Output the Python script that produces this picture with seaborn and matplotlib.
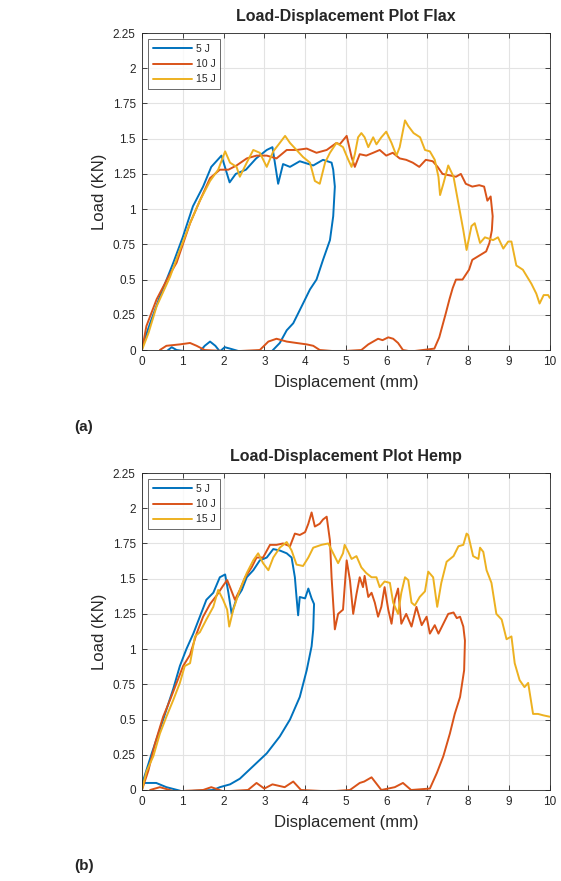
import matplotlib
matplotlib.use("Agg")
import matplotlib.pyplot as plt
import seaborn as sns
from matplotlib.ticker import FuncFormatter

# ---- data (displacement mm, load kN) ----
flax_5_x = [0, 0.2, 0.44, 0.77, 1.0, 1.25, 1.5, 1.7, 1.95, 2.15, 2.3, 2.55, 2.8, 3.06, 3.2, 3.34,
            3.46, 3.63, 3.87, 4.2, 4.44, 4.65, 4.69, 4.73, 4.69, 4.61, 4.44, 4.28, 4.12, 3.95, 3.71,
            3.55, 3.38, 3.18, 2.4, 2.16, 2.03, 1.91, 1.8, 1.67, 1.54, 1.42, 1.1, 0.85, 0.73, 0.6]
flax_5_y = [0.02, 0.19, 0.38, 0.62, 0.8, 1.02, 1.16, 1.3, 1.38, 1.19, 1.25, 1.28, 1.36, 1.42, 1.44, 1.18,
            1.32, 1.3, 1.34, 1.31, 1.35, 1.33, 1.28, 1.16, 0.95, 0.78, 0.64, 0.5, 0.43, 0.33, 0.19,
            0.14, 0.05, -0.01, -0.01, 0.01, 0.02, -0.01, 0.03, 0.06, 0.03, -0.01, -0.01, 0.0, 0.02, -0.01]

flax_10_x = [0, 0.11, 0.36, 0.65, 0.85, 1.18, 1.42, 1.67, 1.91, 2.12, 2.32, 2.57, 2.81, 3.06, 3.3, 3.55,
             3.79, 4.04, 4.28, 4.53, 4.77, 4.85, 5.02, 5.14, 5.22, 5.34, 5.5, 5.67, 5.83, 5.99, 6.15,
             6.32, 6.48, 6.64, 6.8, 6.96, 7.13, 7.25, 7.37, 7.54, 7.7, 7.82, 7.94, 8.1, 8.27, 8.39,
             8.47, 8.55, 8.6, 8.58, 8.52, 8.44, 8.27, 8.1, 8.02, 7.86, 7.7, 7.62, 7.54, 7.45, 7.29,
             7.17, 6.6, 6.4, 6.28, 6.16, 6.04, 5.9, 5.79, 5.67, 5.55, 5.38, 4.8, 4.36, 4.2, 4.04,
             3.79, 3.55, 3.3, 3.1, 2.89, 2.2, 1.54, 1.34, 1.18, 0.93, 0.6, 0.44]
flax_10_y = [0, 0.17, 0.36, 0.52, 0.62, 0.9, 1.06, 1.22, 1.28, 1.28, 1.31, 1.36, 1.38, 1.38, 1.36, 1.42,
             1.42, 1.43, 1.4, 1.42, 1.47, 1.46, 1.52, 1.37, 1.3, 1.39, 1.38, 1.4, 1.42, 1.38, 1.4,
             1.36, 1.35, 1.33, 1.3, 1.35, 1.34, 1.3, 1.25, 1.24, 1.23, 1.25, 1.18, 1.16, 1.17, 1.16,
             1.06, 1.09, 0.95, 0.85, 0.76, 0.7, 0.67, 0.64, 0.57, 0.5, 0.5, 0.44, 0.36, 0.26, 0.09,
             0.01, -0.01, 0.0, 0.05, 0.08, 0.09, 0.07, 0.08, 0.06, 0.04, 0.0, -0.01, 0.0, 0.03, 0.04,
             0.05, 0.06, 0.08, 0.06, 0.0, -0.01, 0.0, 0.03, 0.05, 0.04, 0.03, 0.0]

flax_15_x = [0, 0.16, 0.36, 0.69, 0.93, 1.18, 1.42, 1.67, 1.87, 2.04, 2.16, 2.32, 2.4, 2.57, 2.73, 2.89,
             3.06, 3.22, 3.38, 3.51, 3.63, 3.79, 3.95, 4.12, 4.24, 4.36, 4.49, 4.61, 4.77, 4.93, 5.06,
             5.14, 5.22, 5.3, 5.38, 5.46, 5.55, 5.67, 5.75, 5.87, 5.99, 6.12, 6.24, 6.32, 6.45, 6.53,
             6.66, 6.82, 6.94, 7.06, 7.18, 7.27, 7.31, 7.39, 7.51, 7.64, 7.76, 7.88, 7.96, 8.08, 8.16,
             8.29, 8.41, 8.61, 8.73, 8.86, 8.98, 9.06, 9.18, 9.34, 9.55, 9.67, 9.75, 9.85, 9.96, 10.0]
flax_15_y = [0, 0.12, 0.31, 0.52, 0.71, 0.9, 1.06, 1.2, 1.28, 1.41, 1.33, 1.3, 1.23, 1.33, 1.42, 1.4,
             1.3, 1.41, 1.47, 1.52, 1.47, 1.42, 1.37, 1.33, 1.2, 1.18, 1.33, 1.4, 1.47, 1.44, 1.35,
             1.3, 1.39, 1.51, 1.54, 1.51, 1.44, 1.51, 1.46, 1.51, 1.55, 1.47, 1.38, 1.44, 1.63, 1.59,
             1.54, 1.51, 1.42, 1.41, 1.35, 1.23, 1.1, 1.18, 1.31, 1.23, 1.04, 0.85, 0.71, 0.88, 0.9,
             0.76, 0.8, 0.78, 0.8, 0.72, 0.77, 0.77, 0.6, 0.57, 0.47, 0.4, 0.33, 0.39, 0.39, 0.37]

hemp_5_x = [0, 0.11, 0.24, 0.44, 0.6, 0.77, 0.93, 1.09, 1.26, 1.42, 1.58, 1.75, 1.91, 2.04, 2.12, 2.2,
            2.32, 2.45, 2.57, 2.73, 2.89, 3.06, 3.22, 3.38, 3.55, 3.67, 3.75, 3.79, 3.83, 3.87, 4.0,
            4.08, 4.16, 4.22, 4.2, 4.16, 4.04, 3.87, 3.63, 3.38, 3.06, 2.73, 2.4, 2.16, 1.91, 1.75,
            1.0, 0.6, 0.35, 0.05]
hemp_5_y = [0.04, 0.14, 0.26, 0.43, 0.57, 0.72, 0.88, 1.0, 1.11, 1.23, 1.35, 1.4, 1.51, 1.53, 1.4, 1.25,
            1.36, 1.42, 1.51, 1.56, 1.63, 1.65, 1.71, 1.7, 1.68, 1.65, 1.51, 1.37, 1.24, 1.37, 1.36,
            1.43, 1.36, 1.32, 1.14, 1.02, 0.85, 0.66, 0.5, 0.38, 0.26, 0.17, 0.08, 0.04, 0.02, 0.0,
            -0.01, 0.02, 0.05, 0.05]

hemp_10_x = [0, 0.16, 0.32, 0.52, 0.69, 0.85, 1.01, 1.18, 1.34, 1.5, 1.67, 1.83, 1.99, 2.09, 2.16, 2.28,
             2.4, 2.53, 2.69, 2.81, 2.97, 3.14, 3.3, 3.46, 3.63, 3.75, 3.87, 4.0, 4.08, 4.16, 4.24,
             4.36, 4.44, 4.53, 4.61, 4.65, 4.73, 4.81, 4.93, 5.02, 5.1, 5.18, 5.26, 5.34, 5.42, 5.46,
             5.55, 5.63, 5.71, 5.79, 5.87, 5.95, 6.04, 6.12, 6.2, 6.28, 6.36, 6.48, 6.61, 6.73, 6.86,
             6.98, 7.06, 7.18, 7.27, 7.39, 7.51, 7.64, 7.72, 7.8, 7.88, 7.92, 7.9, 7.8, 7.67, 7.55,
             7.39, 7.23, 7.06, 6.6, 6.4, 6.2, 5.87, 5.63, 5.45, 5.34, 5.1, 4.6, 3.9, 3.71, 3.5, 3.2,
             3.0, 2.81, 2.6, 2.0, 1.7, 1.5, 0.8, 0.44, 0.2]
hemp_10_y = [0, 0.14, 0.33, 0.52, 0.64, 0.76, 0.88, 0.96, 1.11, 1.23, 1.32, 1.38, 1.45, 1.49, 1.44, 1.35,
             1.42, 1.51, 1.58, 1.65, 1.65, 1.74, 1.74, 1.75, 1.73, 1.82, 1.81, 1.83, 1.89, 1.97, 1.87,
             1.89, 1.92, 1.94, 1.77, 1.51, 1.14, 1.25, 1.28, 1.63, 1.49, 1.25, 1.39, 1.51, 1.44, 1.52,
             1.37, 1.4, 1.33, 1.23, 1.3, 1.44, 1.28, 1.18, 1.35, 1.43, 1.18, 1.25, 1.16, 1.3, 1.17,
             1.23, 1.11, 1.17, 1.11, 1.18, 1.25, 1.26, 1.22, 1.23, 1.16, 1.06, 0.85, 0.66, 0.54, 0.4,
             0.24, 0.12, 0.01, 0.0, 0.05, 0.02, 0.0, 0.09, 0.06, 0.05, 0.0, -0.01, 0.0, 0.06, 0.02, 0.04,
             0.01, 0.05, 0.0, -0.01, 0.02, 0.0, -0.01, 0.02, 0.0]

hemp_15_x = [0, 0.11, 0.28, 0.44, 0.6, 0.77, 0.93, 1.05, 1.18, 1.3, 1.42, 1.58, 1.75, 1.87, 1.99, 2.09,
             2.14, 2.24, 2.4, 2.57, 2.73, 2.85, 2.97, 3.1, 3.22, 3.38, 3.55, 3.67, 3.79, 3.95, 4.08,
             4.2, 4.4, 4.57, 4.69, 4.81, 4.93, 4.97, 5.06, 5.14, 5.26, 5.38, 5.5, 5.63, 5.75, 5.83,
             5.95, 6.08, 6.16, 6.28, 6.36, 6.45, 6.53, 6.61, 6.69, 6.81, 6.94, 7.02, 7.14, 7.24, 7.34,
             7.47, 7.64, 7.76, 7.88, 7.96, 8.0, 8.12, 8.25, 8.29, 8.37, 8.45, 8.57, 8.69, 8.82, 8.94,
             9.06, 9.14, 9.26, 9.38, 9.47, 9.59, 9.71, 9.84, 10.0]
hemp_15_y = [0, 0.13, 0.24, 0.4, 0.52, 0.64, 0.76, 0.88, 0.9, 1.09, 1.12, 1.21, 1.3, 1.42, 1.35, 1.28,
             1.16, 1.28, 1.42, 1.54, 1.63, 1.68, 1.61, 1.56, 1.65, 1.72, 1.76, 1.7, 1.6, 1.59, 1.65,
             1.72, 1.74, 1.75, 1.68, 1.61, 1.68, 1.74, 1.69, 1.64, 1.66, 1.58, 1.54, 1.51, 1.51, 1.44,
             1.48, 1.47, 1.33, 1.25, 1.4, 1.51, 1.49, 1.33, 1.31, 1.37, 1.41, 1.55, 1.51, 1.3, 1.47,
             1.62, 1.66, 1.73, 1.74, 1.82, 1.81, 1.66, 1.64, 1.72, 1.69, 1.56, 1.47, 1.25, 1.21, 1.07,
             1.09, 0.9, 0.78, 0.73, 0.76, 0.54, 0.54, 0.53, 0.52]

labels = ["5 J", "10 J", "15 J"]
colors = ["#0072BD", "#D95319", "#EDB120"]
y_ticks = [0, 0.25, 0.5, 0.75, 1, 1.25, 1.5, 1.75, 2, 2.25]
x_ticks = list(range(0, 11))

sns.set_style("ticks")
plt.rcParams['font.family'] = ['Liberation Sans', 'DejaVu Sans']

fig = plt.figure(figsize=(5.61, 8.81), dpi=100)
ax_a = fig.add_axes([0.253, 0.6027, 0.727, 0.3598])
ax_b = fig.add_axes([0.253, 0.1033, 0.727, 0.3598])

panels = [
    (ax_a, "Load-Displacement Plot Flax",
     [(flax_5_x, flax_5_y), (flax_10_x, flax_10_y), (flax_15_x, flax_15_y)]),
    (ax_b, "Load-Displacement Plot Hemp",
     [(hemp_5_x, hemp_5_y), (hemp_10_x, hemp_10_y), (hemp_15_x, hemp_15_y)]),
]

for ax, title, series in panels:
    for (xs, ys), lab, c in zip(series, labels, colors):
        sns.lineplot(x=xs, y=ys, sort=False, estimator=None, ax=ax,
                     color=c, lw=1.4, label=lab)
    ax.set_xlim(0, 10)
    ax.set_ylim(0, 2.25)
    ax.set_xticks(x_ticks)
    ax.set_yticks(y_ticks)
    ax.yaxis.set_major_formatter(FuncFormatter(lambda v, p: f"{v:g}"))
    ax.grid(True, color="#e3e3e3", lw=0.8)
    ax.set_axisbelow(True)
    ax.tick_params(direction="in", top=True, right=True, length=3.5, width=0.6,
                   labelsize=8.5, colors="#262626", pad=4.5)
    for s in ax.spines.values():
        s.set_color("#262626")
        s.set_linewidth(0.6)
    ax.set_title(title, fontsize=11.5, fontweight="bold", pad=9)
    ax.set_xlabel("Displacement (mm)", fontsize=12, labelpad=5)
    ax.set_ylabel("Load (KN)", fontsize=12, labelpad=4)
    leg = ax.legend(loc="upper left", fontsize=7.5, handlelength=3.8, frameon=True,
                    fancybox=False, edgecolor="#262626", borderpad=0.45,
                    labelspacing=0.5, handletextpad=0.3, borderaxespad=0.6)
    leg.get_frame().set_linewidth(0.6)

fig.text(0.133, 1 - 427 / 881, "(a)", fontsize=11, fontweight="bold", va="center")
fig.text(0.133, 1 - 866 / 881, "(b)", fontsize=11, fontweight="bold", va="center")

fig.savefig("out.png", dpi=100)
